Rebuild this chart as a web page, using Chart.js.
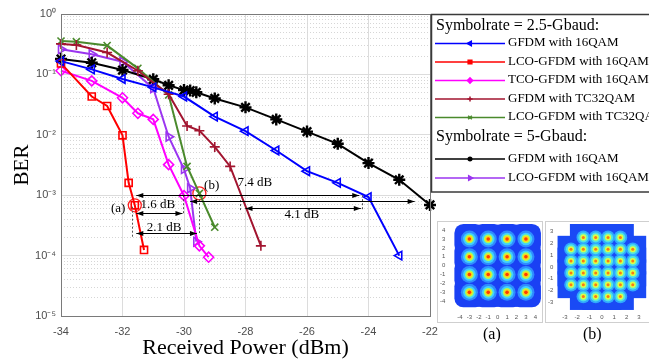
<!DOCTYPE html>
<html>
<head>
<meta charset="utf-8">
<script src="https://cdn.jsdelivr.net/npm/chart.js@4.4.1/dist/chart.umd.min.js"></script>
<style>
  html, body { margin: 0; padding: 0; background: #fff; overflow: hidden; }
  #wrap { position: relative; width: 649px; height: 362px; }
  canvas { position: absolute; }
  #main { left: 0; top: 0; }
  #insA { left: 437px; top: 221px; }
  #insB { left: 545px; top: 221px; }
  .cap { position: absolute; top: 325px; font: 16px "Liberation Serif", serif; color: #000; }
</style>
</head>
<body>
<div id="wrap">
  <canvas id="main" width="649" height="362"></canvas>
  <canvas id="insA" width="106" height="102"></canvas>
  <canvas id="insB" width="112" height="102"></canvas>
  <div class="cap" style="left:483px">(a)</div>
  <div class="cap" style="left:583px">(b)</div>
</div>
<script>
// axes
const xTicks = [-34, -32, -30, -28, -26, -24, -22];
const yDecades = [1e-5, 1e-4, 1e-3, 1e-2, 1e-1, 1];
const yTickLabels = ['10⁻⁵', '10⁻⁴', '10⁻³', '10⁻²', '10⁻¹', '10⁰'];
const yMinorSteps = [2, 3, 4, 5, 6, 7, 8, 9];

// Symbolrate = 2.5-Gbaud
const gfdm16X = [-34, -33, -32, -31, -30, -29, -28, -27, -26, -25, -24, -23];
const gfdm16Y = [0.166, 0.121, 0.084, 0.061, 0.043, 0.020, 0.0115, 0.0055, 0.0025, 0.0016, 0.00093, 0.0001];
const lco16X = [-34, -33, -32.5, -32, -31.8, -31.6, -31.3];
const lco16Y = [0.152, 0.043, 0.030, 0.0098, 0.0016, 0.00068, 0.000124];
const tco16X = [-34, -33, -32, -31.5, -31, -30.5, -30, -29.5, -29.2];
const tco16Y = [0.115, 0.078, 0.041, 0.0227, 0.018, 0.0032, 0.00098, 0.000145, 0.000094];
const gfdmTcX = [-34, -33.5, -32.5, -31.5, -30.5, -29.9, -29.5, -29, -28.5, -27.5];
const gfdmTcY = [0.32, 0.307, 0.23, 0.115, 0.047, 0.014, 0.0117, 0.0063, 0.0030, 0.000145];
const lcoTcX = [-34, -33.5, -32.5, -31.5, -30.5, -29.9, -29.5, -29];
const lcoTcY = [0.357, 0.348, 0.30, 0.126, 0.0457, 0.003, 0.00107, 0.000295];
// Symbolrate = 5-Gbaud
const gfdm5X = [-34, -33, -32, -31, -30.5, -30, -29.8, -29.6, -29, -28, -27, -26, -25, -24, -23, -22];
const gfdm5Y = [0.18, 0.156, 0.118, 0.083, 0.066, 0.055, 0.054, 0.0505, 0.04, 0.0285, 0.018, 0.0113, 0.0071, 0.0034, 0.0018, 0.00069];
const lco5X = [-34, -33, -32, -31, -30.5, -30, -29.8, -29.6];
const lco5Y = [0.26, 0.215, 0.162, 0.059, 0.0093, 0.0027, 0.0013, 0.00017];

// annotations (data coordinates)
const arrowX1 = [-31.55, -29.8, -28.0, -31.55, -31.55];
const arrowX2 = [-24.3, -22.5, -24.25, -30.05, -29.58];
const arrowY = [1e-3, 8.1e-4, 6.2e-4, 5.0e-4, 2.4e-4];
const guideX = [-31.68, -30.04, -29.52, -28.18, -24.22];
const guideTop = [6.45e-4, 1e-3, 1e-3, 8.3e-4, 1e-3];
const guideBottom = [1.93e-4, 4.7e-4, 2.37e-4, 5.5e-4, 5.7e-4];
const noteText = ['(a)', '(b)', '7.4 dB', '4.1 dB', '1.6 dB', '2.1 dB'];
const noteX = [-32.14, -29.1, -27.7, -26.17, -30.85, -30.65];
const noteY = [6.07e-4, 1.42e-3, 1.59e-3, 4.7e-4, 7.08e-4, 2.94e-4];

// constellation insets
const qam16Levels = [-3, -1, 1, 3];
const qam32Levels = [-2.5, -1.5, -0.5, 0.5, 1.5, 2.5];
const qam16Ticks = [-4, -3, -2, -1, 0, 1, 2, 3, 4];
const qam32Ticks = [-3, -2, -1, 0, 1, 2, 3];

function pts(xs, ys) { return xs.map((v, i) => ({ x: v, y: ys[i] })); }

function series(label, xs, ys, color, style, radius, rotation) {
  return {
    label, data: pts(xs, ys),
    borderColor: color, backgroundColor: color, borderWidth: 2,
    pointStyle: style, pointRadius: radius, pointRotation: rotation || 0,
    pointBorderColor: color, pointBackgroundColor: 'rgba(255,255,255,0)',
    pointBorderWidth: 1.6, tension: 0, clip: false
  };
}

const datasets = [
  series('GFDM with 16QAM', gfdm16X, gfdm16Y, '#0000ff', 'triangle', 5, -90),
  series('LCO-GFDM with 16QAM', lco16X, lco16Y, '#ff0000', 'rect', 5),
  series('TCO-GFDM with 16QAM', tco16X, tco16Y, '#ff00ff', 'rectRot', 5),
  series('GFDM with TC32QAM', gfdmTcX, gfdmTcY, '#a2142f', 'cross', 5),
  series('LCO-GFDM with TC32QAM', lcoTcX, lcoTcY, '#4a8a2c', 'crossRot', 5),
  series('GFDM with 16QAM', gfdm5X, gfdm5Y, '#000000', 'star', 6),
  series('LCO-GFDM with 16QAM', lco5X, lco5Y, '#9b35f0', 'triangle', 5, 90)
];
datasets[5].pointBorderWidth = 2.4;
// red markers (a) and (b)
datasets.push({
  label: 'marks', data: [{ x: lco16X[5], y: lco16Y[5] }, { x: lcoTcX[6], y: lcoTcY[6] }],
  showLine: false, pointStyle: 'circle', pointRadius: 6.5, pointBorderWidth: 1.3,
  pointBorderColor: '#ff2020', pointBackgroundColor: 'rgba(0,0,0,0)', clip: false
});

const legendRows = [
  { head: 'Symbolrate = 2.5-Gbaud:', y: 26 },
  { ds: 0, y: 43 }, { ds: 1, y: 61.5 }, { ds: 2, y: 80 }, { ds: 3, y: 98.5 }, { ds: 4, y: 117 },
  { head: 'Symbolrate = 5-Gbaud:', y: 137 },
  { ds: 5, y: 158.5 }, { ds: 6, y: 177.5 }
];

const extras = {
  id: 'extras',
  afterDatasetsDraw(chart) {
    const { ctx, scales: { x, y } } = chart;
    ctx.save();
    ctx.strokeStyle = '#555'; ctx.lineWidth = 1; ctx.setLineDash([2, 2]);
    guideX.forEach((gx, i) => {
      const px = Math.round(x.getPixelForValue(gx)) + 0.5;
      ctx.beginPath();
      ctx.moveTo(px, y.getPixelForValue(guideTop[i]));
      ctx.lineTo(px, y.getPixelForValue(guideBottom[i]));
      ctx.stroke();
    });
    ctx.setLineDash([]);
    ctx.strokeStyle = '#000'; ctx.fillStyle = '#000';
    const head = (px, py, dir) => {
      ctx.beginPath(); ctx.moveTo(px, py);
      ctx.lineTo(px - dir * 7, py - 2.5); ctx.lineTo(px - dir * 7, py + 2.5);
      ctx.closePath(); ctx.fill();
    };
    arrowY.forEach((ay, i) => {
      const py = Math.round(y.getPixelForValue(ay)) + 0.5;
      const p1 = x.getPixelForValue(arrowX1[i]), p2 = x.getPixelForValue(arrowX2[i]);
      ctx.beginPath(); ctx.moveTo(p1, py); ctx.lineTo(p2, py); ctx.stroke();
      head(p1, py, -1); head(p2, py, 1);
    });
    ctx.font = '13px "Liberation Serif", serif';
    ctx.textAlign = 'center'; ctx.textBaseline = 'middle';
    noteText.forEach((t, i) => ctx.fillText(t, x.getPixelForValue(noteX[i]), y.getPixelForValue(noteY[i])));
    ctx.restore();
  },
  afterDraw(chart) {
    const { ctx, chartArea: a } = chart;
    ctx.save();
    ctx.strokeStyle = '#7a7a7a'; ctx.lineWidth = 1;
    ctx.strokeRect(Math.round(a.left) + 0.5, Math.round(a.top) + 0.5, Math.round(a.right - a.left), Math.round(a.bottom - a.top));
    // legend box
    ctx.fillStyle = '#fff';
    ctx.fillRect(432, 14, 260, 178);
    ctx.strokeStyle = '#3a3a3a'; ctx.lineWidth = 1.5;
    ctx.strokeRect(431.5, 14.5, 260, 177.5);
    ctx.textBaseline = 'middle'; ctx.textAlign = 'left';
    legendRows.forEach(r => {
      if (r.head) {
        ctx.fillStyle = '#000';
        ctx.font = '16px "Liberation Serif", serif';
        ctx.fillText(r.head, 436, r.y);
        return;
      }
      const d = chart.data.datasets[r.ds];
      ctx.strokeStyle = d.borderColor; ctx.lineWidth = 1.5;
      ctx.beginPath(); ctx.moveTo(435, r.y + 0.5); ctx.lineTo(505, r.y + 0.5); ctx.stroke();
      ctx.fillStyle = d.borderColor; ctx.lineWidth = 1.5;
      Chart.helpers.drawPoint(ctx, { pointStyle: d.pointStyle, rotation: d.pointRotation, radius: 2.6, borderWidth: 1.5 }, 470, r.y + 0.5);
      ctx.fillStyle = '#000';
      ctx.font = '13px "Liberation Serif", serif';
      ctx.fillText(d.label, 508, r.y);
    });
    ctx.restore();
  }
};

const tickFont = { family: '"Liberation Sans", Arial, sans-serif', size: 11 };

new Chart(document.getElementById('main'), {
  type: 'line',
  data: { datasets },
  options: {
    responsive: false, animation: false, devicePixelRatio: 1,
    layout: { autoPadding: false, padding: { left: 0, top: 14, right: 219, bottom: 0 } },
    plugins: { legend: { display: false }, tooltip: { enabled: false } },
    scales: {
      x: {
        type: 'linear', min: -34, max: -22,
        afterBuildTicks: s => { s.ticks = xTicks.map(v => ({ value: v })); },
        afterFit: s => { s.height = 46; },
        grid: { color: '#dcdcdc', drawTicks: false },
        border: { display: false },
        ticks: { padding: 9, color: '#4d4d4d', font: tickFont, autoSkip: false },
        title: { display: true, text: 'Received Power (dBm)', color: '#000',
                 font: { family: '"Liberation Serif", serif', size: 22 }, padding: { top: 0, bottom: 1 } }
      },
      y: {
        type: 'logarithmic', min: 1e-5, max: 1,
        afterBuildTicks: s => { s.ticks = yDecades.map(v => ({ value: v, major: true })); },
        afterFit: s => { s.width = 61; },
        grid: { color: '#dcdcdc', drawTicks: false },
        border: { display: false },
        ticks: { padding: 5, color: '#4d4d4d', font: tickFont, autoSkip: false,
                 callback: (v, i) => yTickLabels[i] },
        title: { display: true, text: 'BER', color: '#000',
                 font: { family: '"Liberation Serif", serif', size: 21 }, padding: { top: 10, bottom: 0 } }
      },
      yMinor: {
        type: 'logarithmic', position: 'right', min: 1e-5, max: 1,
        afterBuildTicks: s => {
          const t = [];
          yDecades.slice(0, -1).forEach(d => yMinorSteps.forEach(m => t.push({ value: d * m })));
          s.ticks = t;
        },
        afterFit: s => { s.width = 0; },
        grid: { color: '#d6d6d6', drawTicks: false },
        border: { display: false, dash: [1, 2] },
        ticks: { display: false }
      }
    }
  },
  plugins: [extras]
});

// constellation insets
function grid(levels, skipCorners) {
  const out = [];
  const edge = Math.max(...levels);
  levels.forEach(i => levels.forEach(q => {
    const corner = Math.abs(i) === edge && Math.abs(q) === edge;
    if (!(skipCorners && corner)) out.push({ x: i, y: q });
  }));
  return out;
}

const frame = {
  id: 'frame',
  afterDraw(chart) {
    const { ctx, width, height } = chart;
    ctx.save();
    ctx.strokeStyle = '#cfcfcf'; ctx.lineWidth = 1;
    ctx.strokeRect(0.5, 0.5, width - 1, height - 1);
    ctx.restore();
  }
};

function inset(id, points, layers, xr, yr, tickVals) {
  new Chart(document.getElementById(id), {
    type: 'scatter',
    data: {
      datasets: layers.map((l, k) => ({
        data: points.map(p => ({ x: p.x, y: p.y })),
        order: layers.length - k,
        pointStyle: l[0], pointRadius: l[1], pointBorderWidth: 0,
        pointBackgroundColor: l[2], pointBorderColor: l[2], clip: false
      }))
    },
    options: {
      responsive: false, animation: false, devicePixelRatio: 1,
      layout: { autoPadding: false, padding: { left: 2, top: 3, right: 2, bottom: 1 } },
      plugins: { legend: { display: false }, tooltip: { enabled: false } },
      scales: {
        x: { type: 'linear', min: xr[0], max: xr[1], grid: { display: false }, border: { display: false },
             afterBuildTicks: s => { s.ticks = tickVals.map(v => ({ value: v })); },
             ticks: { color: '#555', font: { family: 'Liberation Sans', size: 6 }, padding: 1, autoSkip: false, maxRotation: 0 } },
        y: { type: 'linear', min: yr[0], max: yr[1], grid: { display: false }, border: { display: false },
             afterBuildTicks: s => { s.ticks = tickVals.map(v => ({ value: v })); },
             ticks: { color: '#555', font: { family: 'Liberation Sans', size: 6 }, padding: 1, autoSkip: false } }
      }
    },
    plugins: [frame]
  });
}

inset('insA', grid(qam16Levels, false), [
  ['rectRounded', 17.5, '#1a40f4'],
  ['circle', 8.5, '#2f8cff'],
  ['circle', 6.3, '#3fd0ff'],
  ['circle', 4.4, '#a8ff5a'],
  ['circle', 3.1, '#ffd21a'],
  ['circle', 1.8, '#ff3c00']
], [-4.6, 4.6], [-4.4, 4.5], qam16Ticks);

inset('insB', grid(qam32Levels, true), [
  ['rect', 19, '#1a4af5'],
  ['circle', 6.8, '#2fa8ff'],
  ['circle', 5, '#52e6e0'],
  ['circle', 3.1, '#d8ff4a'],
  ['circle', 1.5, '#ff7a10']
], [-3.2, 4.3], [-3.2, 3.5], qam32Ticks);
</script>
</body>
</html>
